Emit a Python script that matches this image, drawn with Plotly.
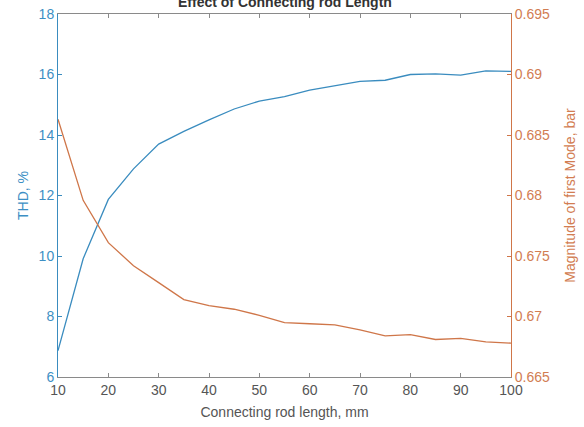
import plotly.graph_objects as go

rod_length = [10, 15, 20, 25, 30, 35, 40, 45, 50, 55, 60, 65, 70, 75, 80, 85, 90, 95, 100]
thd = [6.87, 9.91, 11.87, 12.88, 13.7, 14.12, 14.5, 14.86, 15.12, 15.27, 15.48, 15.63, 15.77, 15.81, 16.0, 16.02, 15.98, 16.12, 16.1]
magnitude = [0.6863, 0.6796, 0.6761, 0.6742, 0.6728, 0.6714, 0.6709, 0.6706, 0.6701, 0.6695,
             0.6694, 0.6693, 0.6689, 0.6684, 0.6685, 0.6681, 0.6682, 0.6679, 0.6678]

x_ticks = [10, 20, 30, 40, 50, 60, 70, 80, 90, 100]
thd_ticks = [6, 8, 10, 12, 14, 16, 18]
mag_ticks = [0.665, 0.67, 0.675, 0.68, 0.685, 0.69, 0.695]
mag_tick_text = ["0.665", "0.67", "0.675", "0.68", "0.685", "0.69", "0.695"]

BLUE_LINE = "#3a8cbf"
ORANGE_LINE = "#cf7649"
BLUE_TXT = "#3d8fc4"
ORANGE_TXT = "#d27d52"
GREY = "#555555"
FONT = "Liberation Sans, Arial, sans-serif"

fig = go.Figure()
fig.add_trace(go.Scatter(x=rod_length, y=thd, mode="lines",
                         line=dict(color=BLUE_LINE, width=1.3), yaxis="y", showlegend=False))
fig.add_trace(go.Scatter(x=rod_length, y=magnitude, mode="lines",
                         line=dict(color=ORANGE_LINE, width=1.3), yaxis="y2", showlegend=False))

fig.update_layout(
    width=584, height=427,
    margin=dict(l=58, r=73, t=14, b=50, autoexpand=False),
    paper_bgcolor="white", plot_bgcolor="white",
    font=dict(family=FONT, size=14, color=GREY),
    xaxis=dict(range=[10, 100], tickvals=x_ticks, showgrid=False, zeroline=False,
               automargin=False,
               showline=True, linecolor="#8a8a8a", linewidth=1, mirror="ticks",
               ticks="inside", ticklen=4, tickcolor="#8a8a8a",
               tickfont=dict(size=14, color=GREY),
               title=dict(text="Connecting rod length, mm", font=dict(size=14, color=GREY), standoff=10)),
    yaxis=dict(range=[6, 18], tickvals=thd_ticks, showgrid=False, zeroline=False,
               automargin=False,
               showline=True, linecolor=BLUE_LINE, linewidth=1,
               ticks="inside", ticklen=4, tickcolor=BLUE_LINE,
               tickfont=dict(size=14, color=BLUE_TXT),
               title=dict(text="THD, %", font=dict(size=14, color=BLUE_TXT), standoff=6)),
    yaxis2=dict(range=[0.665, 0.695], tickvals=mag_ticks, ticktext=mag_tick_text,
                overlaying="y", side="right", showgrid=False, zeroline=False,
                automargin=False,
                showline=True, linecolor=ORANGE_LINE, linewidth=1,
                ticks="inside", ticklen=4, tickcolor=ORANGE_LINE,
                tickfont=dict(size=14, color=ORANGE_TXT),
                title=dict(text="Magnitude of first Mode, bar", font=dict(size=14, color=ORANGE_TXT), standoff=16)),
    annotations=[dict(text="<b>Effect of Connecting rod Length</b>", x=0.5, xref="paper",
                      y=1, yref="paper", yanchor="middle", yshift=12, showarrow=False,
                      font=dict(size=14, color="#333333"))],
)

fig.write_html("out.html", config={"displayModeBar": False},
               post_script="document.body.style.margin='0';")
